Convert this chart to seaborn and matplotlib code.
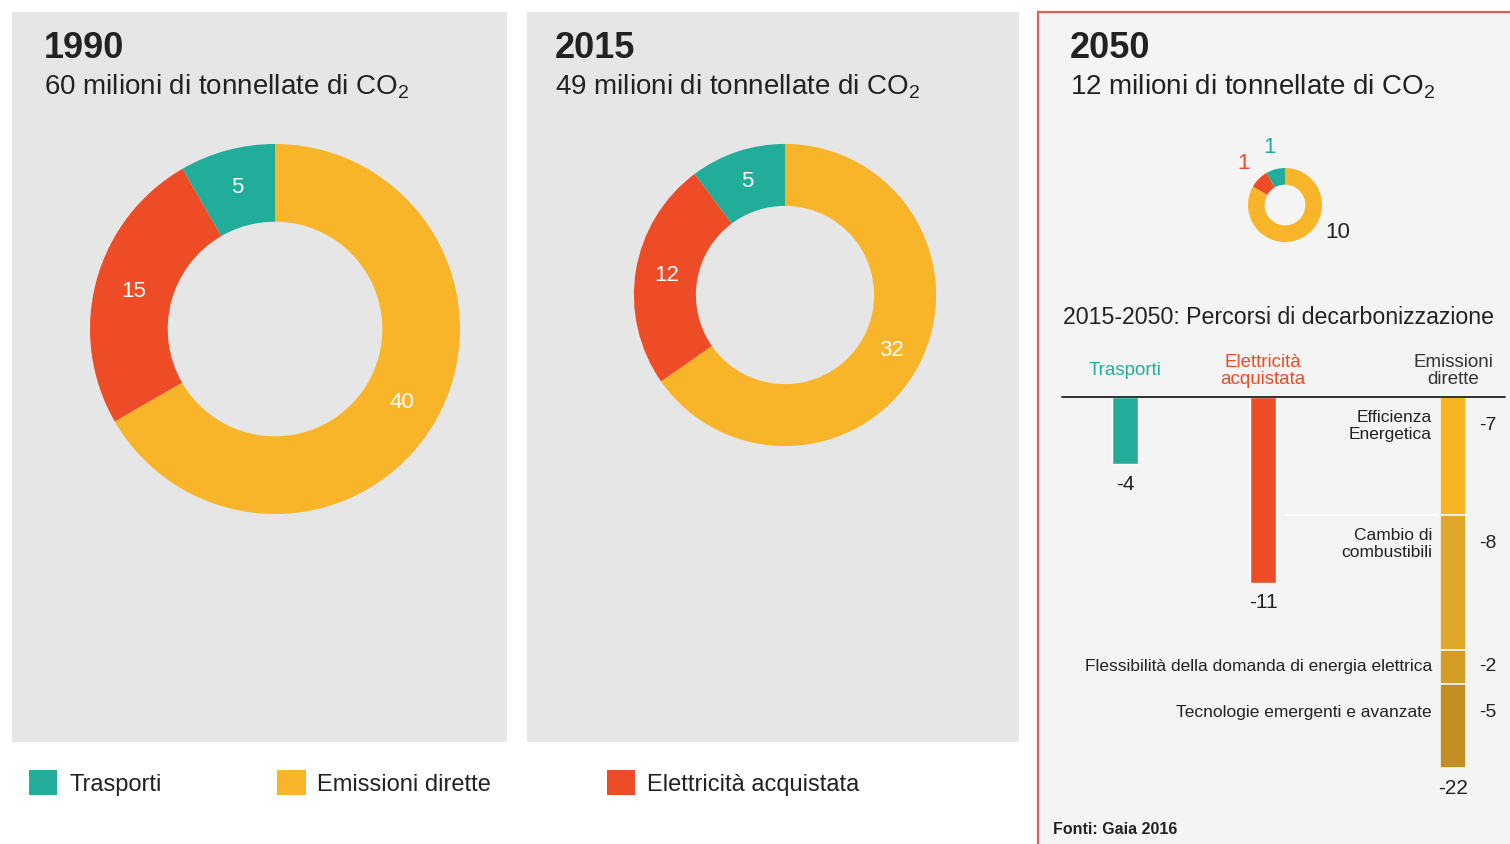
import matplotlib
matplotlib.use("Agg")
import matplotlib.pyplot as plt
from matplotlib.patches import Rectangle, Patch
import numpy as np
import pandas as pd
import seaborn as sns

# --- data ---------------------------------------------------------------
years = ["1990", "2015", "2050"]
sectors = ["Emissioni dirette", "Elettricità acquistata", "Trasporti"]
emissions_1990 = [40, 15, 5]
emissions_2015 = [32, 12, 5]
emissions_2050 = [10, 1, 1]
year_totals = [60, 49, 12]

path_sectors = ["Trasporti", "Elettricità\nacquistata", "Emissioni\ndirette"]
path_cuts = [-4, -11]            # trasporti, elettricità acquistata
levers = ["Efficienza\nEnergetica", "Cambio di\ncombustibili",
          "Flessibilità della domanda di energia elettrica",
          "Tecnologie emergenti e avanzate"]
lever_cuts = [-7, -8, -2, -5]

legend_order = ["Trasporti", "Emissioni dirette", "Elettricità acquistata"]

# --- style --------------------------------------------------------------
TEAL = "#22ad9b"
YELLOW = "#f8b52a"
RED = "#ee4c26"
DARK = "#222222"
sector_colors = {"Emissioni dirette": YELLOW, "Elettricità acquistata": RED,
                 "Trasporti": TEAL}
lever_colors = ["#f6b423", "#dfa82b", "#d29c26", "#c38f23"]

sns.set_theme(style="white")
plt.rcParams["font.family"] = ["Liberation Sans", "DejaVu Sans"]
plt.rcParams["mathtext.fontset"] = "custom"
plt.rcParams["mathtext.rm"] = "Liberation Sans"

W, H = 1510, 844
fig = plt.figure(figsize=(W / 100, H / 100), dpi=100)
fig.patch.set_facecolor("white")
ax = fig.add_axes([0, 0, 1, 1])


def fy(y):
    # pixel row (from top) -> axes y
    return H - y


# panels: left, top, width, height, face, edge
panels = [(12, 12, 495, 730, "#e6e6e6", "none"),
          (527, 12, 492, 730, "#e6e6e6", "none"),
          (1038, 12, 520, 860, "#f4f4f4", "#e0605a")]
for x0, y0, w, h, fc, ec in panels:
    ax.add_patch(Rectangle((x0, fy(y0 + h)), w, h, facecolor=fc,
                           edgecolor=ec, lw=1.6, zorder=0))

# donuts: centre (px), outer radius per 1 Mt, ring fraction
px_per_mt = 185 / 60
donuts = [(emissions_1990, (275, 329), 0.42, 44),
          (emissions_2015, (785, 295), 0.41, 555),
          (emissions_2050, (1285, 205), 0.45, 1070)]
colors = [sector_colors[s] for s in sectors]

for i, (vals, (cx, cy), wf, tx) in enumerate(donuts):
    total = year_totals[i]
    r = total * px_per_mt
    ax.text(tx, fy(58), years[i], fontsize=26, fontweight="bold",
            color=DARK, va="baseline", ha="left")
    ax.text(tx, fy(94), f"{total} milioni di tonnellate di CO$_\\mathregular{{2}}$",
            fontsize=20, color=DARK, va="baseline", ha="left")
    if i < 2:
        ax.pie(vals, center=(cx, fy(cy)), radius=r, startangle=90,
               counterclock=False, colors=colors,
               wedgeprops=dict(width=r * wf, edgecolor="none"),
               autopct=lambda p, t=sum(vals): f"{p * t / 100:.0f}",
               pctdistance=1 - wf / 2,
               textprops=dict(color="white", fontsize=16))
    else:
        wedges, texts = ax.pie(vals, center=(cx, fy(cy)), radius=r,
                               startangle=90, counterclock=False,
                               colors=colors,
                               wedgeprops=dict(width=r * wf, edgecolor="none"),
                               labels=[str(v) for v in vals],
                               labeldistance=1.6,
                               textprops=dict(fontsize=16))
        for t, c in zip(texts, [DARK, RED, TEAL]):
            t.set_color(c)
            t.set_ha("center")
        # big slice label sits off to the lower right
        ang = np.deg2rad(90 - 118)
        texts[0].set_position((cx + 1.6 * r * np.cos(ang),
                               fy(cy) + 1.6 * r * np.sin(ang)))

ax.set_xlim(0, W)
ax.set_ylim(0, H)
ax.set_aspect("equal")
ax.axis("off")

# --- decarbonisation bars ----------------------------------------------
ax.text(1063, fy(318), "2015-2050: Percorsi di decarbonizzazione",
        fontsize=16.7, color=DARK, va="center", ha="left")

bx = fig.add_axes([1040 / W, (H - 768) / H, 470 / W, 371 / H])
bar_x = [0, 1, 2.377]
bar_w = 0.19

bar_df = pd.DataFrame({"x": bar_x[:2], "cut": path_cuts,
                       "sector": ["Trasporti", "Elettricità acquistata"]})
sns.barplot(data=bar_df, x="x", y="cut", hue="sector", native_scale=True,
            palette=[TEAL, RED], width=bar_w, legend=False, ax=bx,
            saturation=1)
bx.set_xlim((1040 - 1125) / 138, (1510 - 1125) / 138)
bx.set_ylim(-22, 0)
bx.axis("off")

bottom = 0
for lab, cut, col in zip(levers, lever_cuts, lever_colors):
    bx.bar(bar_x[2], cut, bottom=bottom, width=bar_w, color=col,
           edgecolor="#f4f4f4", lw=1.2)
    ly = bottom - min(1.7, -cut / 2)
    bx.text(2.225, ly, lab, ha="right", va="center", fontsize=12.5,
            color=DARK, linespacing=1.15)
    bx.text(2.63, ly, str(cut), ha="center", va="center", fontsize=14,
            color=DARK)
    bottom += cut
bx.hlines(lever_cuts[0], 1.16, bar_x[2], color="white", lw=1.5, zorder=0)

for x, v in zip(bar_x, path_cuts + [sum(lever_cuts)]):
    bx.text(x, v - 1.2, str(v), ha="center", va="center", fontsize=15,
            color=DARK)

for x, lab, col in zip(bar_x, path_sectors, [TEAL, RED, "#333333"]):
    bx.text(x, 1.55, lab, ha="center", va="center", fontsize=13.5,
            color=col, linespacing=1.05, clip_on=False)
bx.axhline(0, xmin=22 / 470, xmax=465 / 470, color=DARK, lw=1.3,
           clip_on=False)

ax.text(1053, fy(830), "Fonti: Gaia 2016", fontsize=11.5, fontweight="bold",
        color=DARK, va="center", ha="left")

# --- legend -------------------------------------------------------------
handles = [Patch(facecolor=sector_colors[s], edgecolor="none") for s in legend_order]
fig.legend(handles, legend_order, loc="center left",
           bbox_to_anchor=(29 / W, (H - 783) / H), ncol=3, frameon=False,
           fontsize=17, handlelength=1.2, handleheight=1.2,
           handletextpad=0.5, columnspacing=4.9, borderpad=0,
           borderaxespad=0, labelcolor=DARK)

fig.savefig("out.png", dpi=100, facecolor="white")
